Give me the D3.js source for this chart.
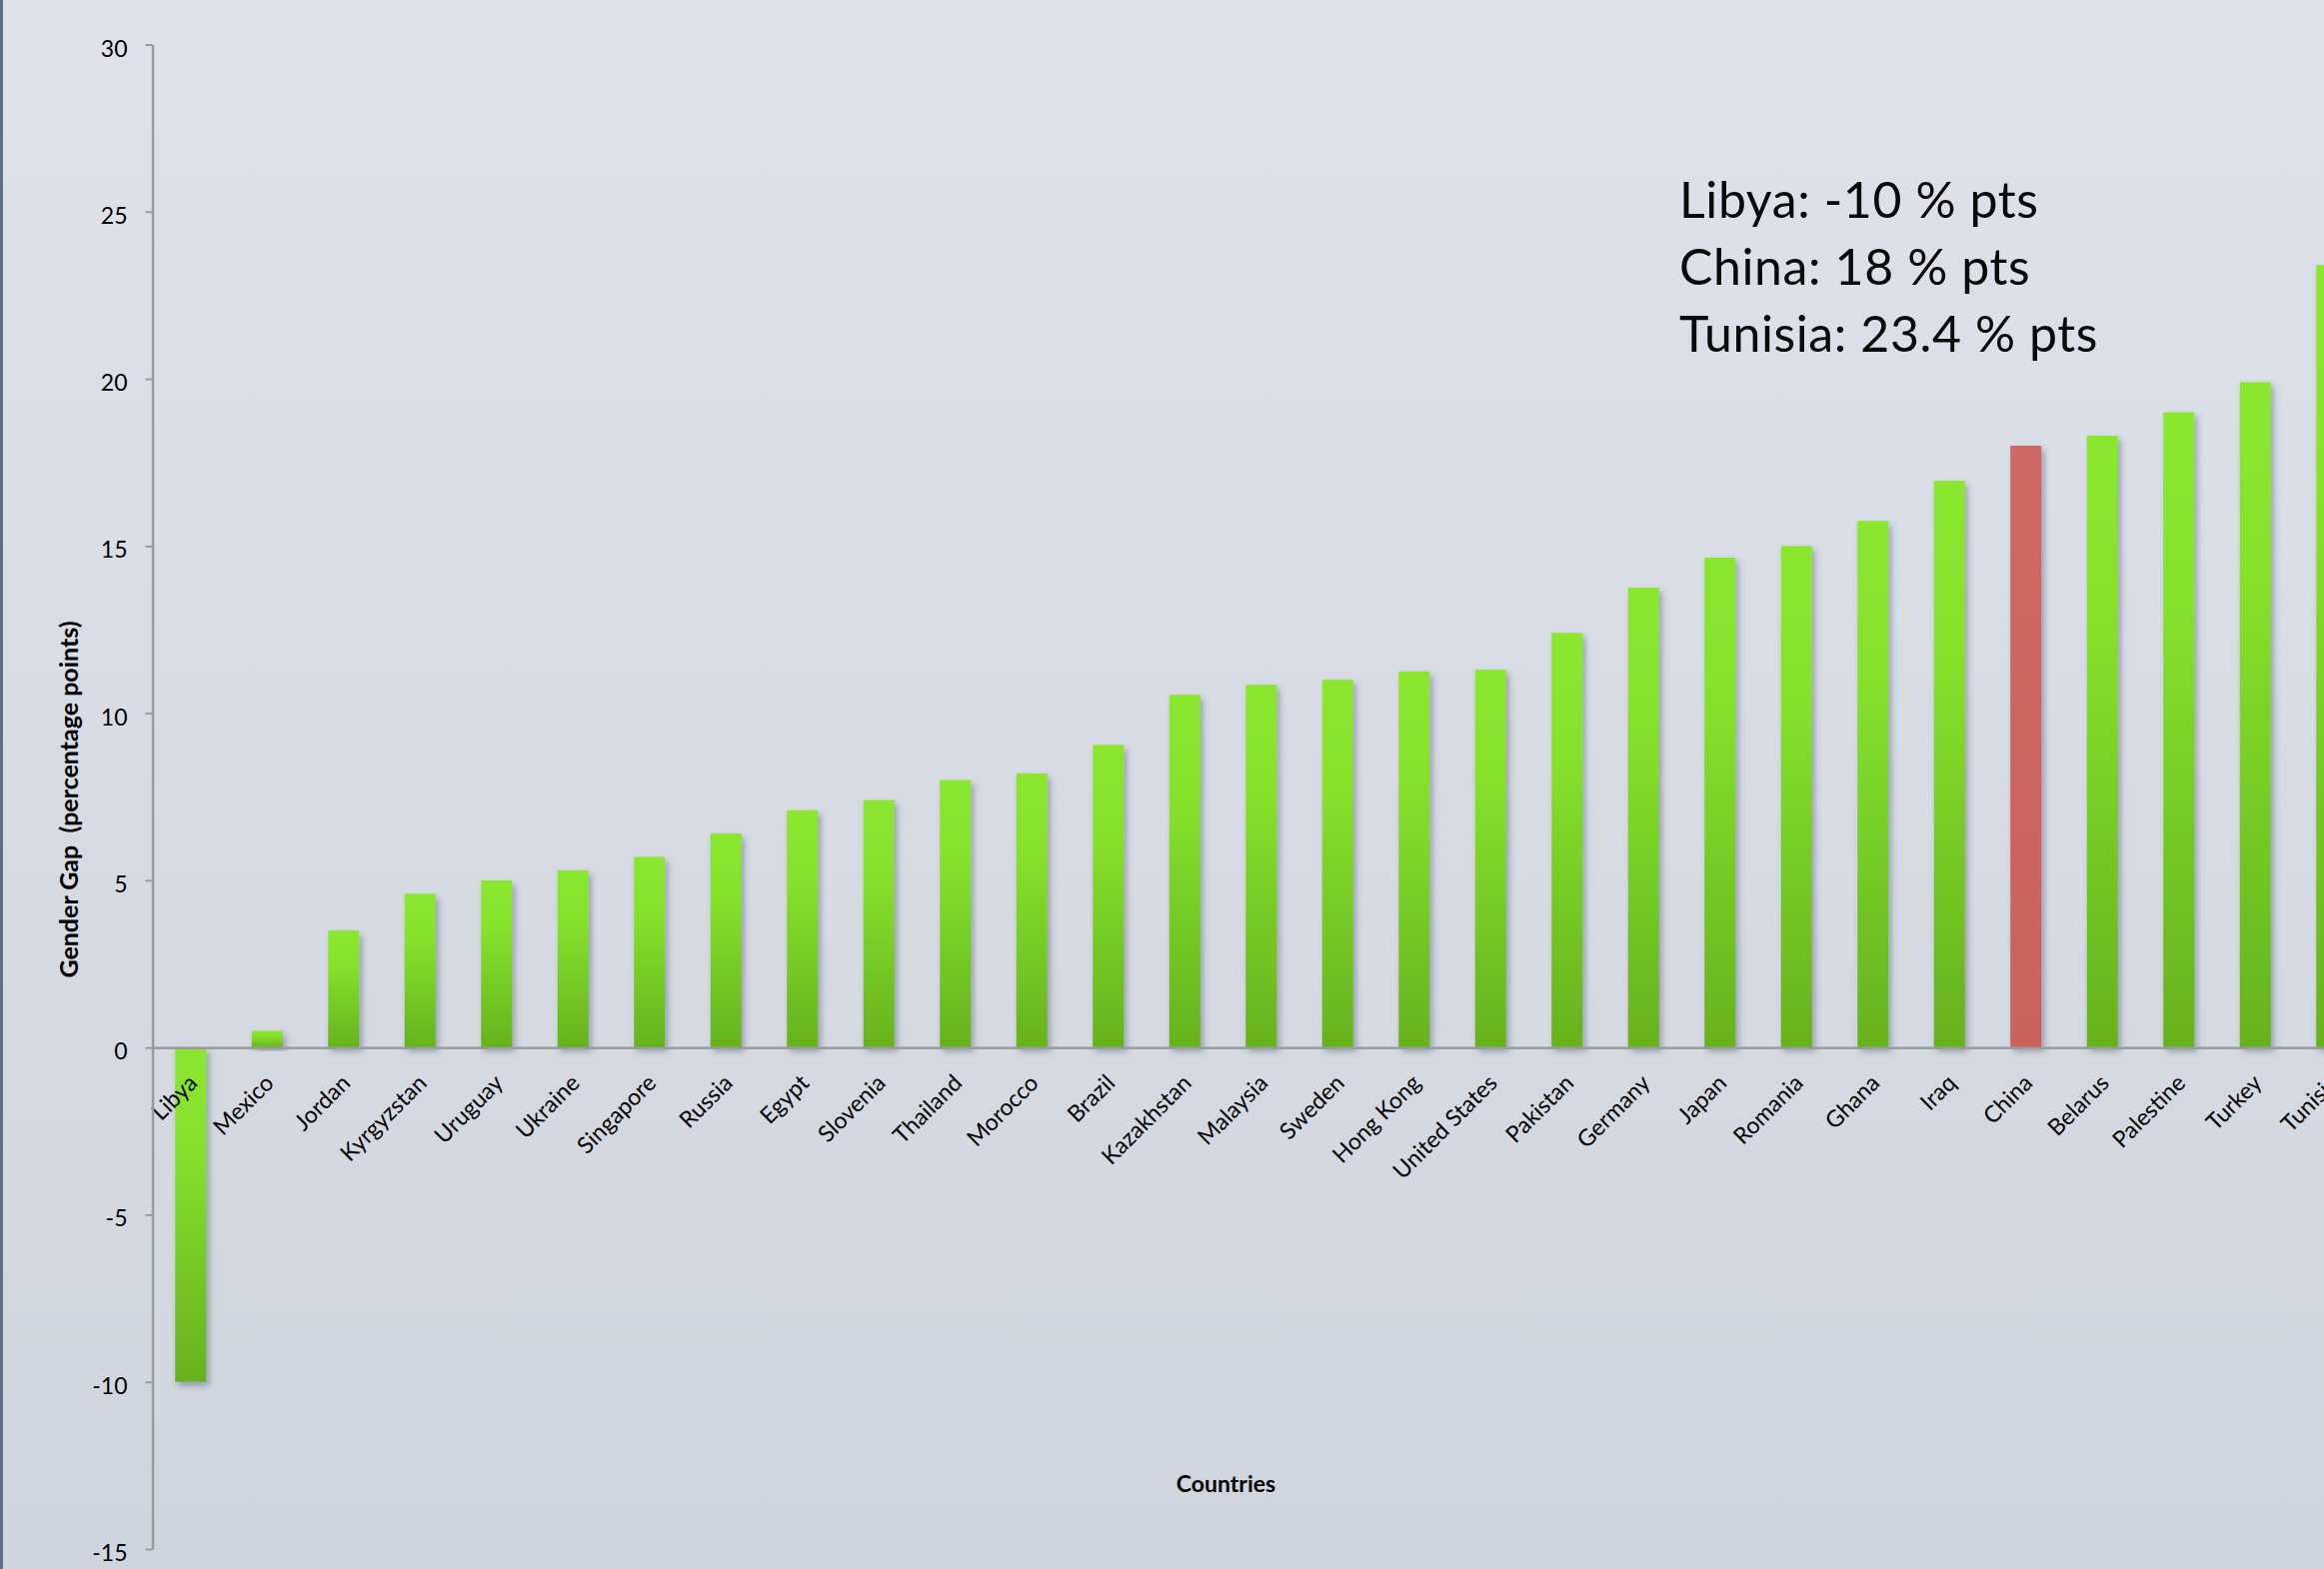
<!DOCTYPE html>
<html>
<head>
<meta charset="utf-8">
<script src="https://cdn.jsdelivr.net/npm/d3@7"></script>
<style>
  html, body { margin: 0; padding: 0; overflow: hidden; background: #d8dde5; }
  svg { display: block; font-family: Lato, "Open Sans", sans-serif; }
</style>
</head>
<body>
<svg id="chart" width="2325" height="1570"></svg>
<script>
// Gender gap by country, sorted ascending (percentage points)
const categories = [
  "Libya", "Mexico", "Jordan", "Kyrgyzstan", "Uruguay", "Ukraine", "Singapore",
  "Russia", "Egypt", "Slovenia", "Thailand", "Morocco", "Brazil", "Kazakhstan",
  "Malaysia", "Sweden", "Hong Kong", "United States", "Pakistan", "Germany",
  "Japan", "Romania", "Ghana", "Iraq", "China", "Belarus", "Palestine", "Turkey",
  "Tunisia"
];
const values = [
  -10, 0.5, 3.5, 4.6, 5.0, 5.3, 5.7,
  6.4, 7.1, 7.4, 8.0, 8.2, 9.05, 10.55,
  10.85, 11.0, 11.25, 11.3, 12.4, 13.75,
  14.65, 15.0, 15.75, 16.95, 18, 18.3, 19.0, 19.9,
  23.4
];
const highlighted = ["China"];
const yTicks = [-15, -10, -5, 0, 5, 10, 15, 20, 25, 30];
const noteCountries = ["Libya", "China", "Tunisia"];

const yTitle = "Gender Gap  (percentage points)";
const xTitle = "Countries";

const data = categories.map((c, i) => ({ country: c, value: values[i] }));

const W = 2325, H = 1570;
const svg = d3.select("#chart");
const defs = svg.append("defs");

// page background
const bg = defs.append("linearGradient").attr("id", "bg")
  .attr("x1", 0).attr("y1", 0).attr("x2", 0).attr("y2", 1);
bg.append("stop").attr("offset", "0%").attr("stop-color", "#dfe2ea");
bg.append("stop").attr("offset", "100%").attr("stop-color", "#cfd5de");

// bar fills
const gGreen = defs.append("linearGradient").attr("id", "barGreen")
  .attr("x1", 0).attr("y1", 0).attr("x2", 0).attr("y2", 1);
gGreen.append("stop").attr("offset", "0%").attr("stop-color", "#8ae72e");
gGreen.append("stop").attr("offset", "30%").attr("stop-color", "#86e12c");
gGreen.append("stop").attr("offset", "100%").attr("stop-color", "#66b21e");

const gRed = defs.append("linearGradient").attr("id", "barRed")
  .attr("x1", 0).attr("y1", 0).attr("x2", 0).attr("y2", 1);
gRed.append("stop").attr("offset", "0%").attr("stop-color", "#cf6862");
gRed.append("stop").attr("offset", "100%").attr("stop-color", "#ca625c");

const shadow = defs.append("filter").attr("id", "shadow")
  .attr("x", "-50%").attr("y", "-10%").attr("width", "200%").attr("height", "130%");
shadow.append("feDropShadow")
  .attr("dx", 3).attr("dy", 4).attr("stdDeviation", 3)
  .attr("flood-color", "#34455e").attr("flood-opacity", 0.4);

svg.append("rect").attr("width", W).attr("height", H).attr("fill", "url(#bg)");
svg.append("rect").attr("x", 0).attr("y", 0).attr("width", 3).attr("height", H)
  .attr("fill", "#5f6e85");

// scales
const plotLeft = 152.5;
const step = 76.5;
const x = d3.scaleBand()
  .domain(categories)
  .range([plotLeft, plotLeft + step * categories.length])
  .paddingInner(0.595)
  .paddingOuter(0.2975);

const y = d3.scaleLinear().domain([-15, 30]).range([1550, 44.5]);

// bars
svg.append("g").selectAll("rect")
  .data(data)
  .join("rect")
  .attr("x", d => x(d.country))
  .attr("width", x.bandwidth())
  .attr("y", d => y(Math.max(0, d.value)))
  .attr("height", d => Math.abs(y(d.value) - y(0)))
  .attr("fill", d => highlighted.includes(d.country) ? "url(#barRed)" : "url(#barGreen)")
  .attr("filter", "url(#shadow)");

// x axis along zero
const xAxis = svg.append("g")
  .attr("transform", `translate(0,${y(0)})`)
  .call(d3.axisBottom(x).tickSize(0).tickSizeOuter(0));
xAxis.select(".domain").attr("stroke", "#9b9b9b").attr("stroke-width", 2.5);
xAxis.selectAll("text")
  .attr("x", 0).attr("y", 0).attr("dy", 0)
  .attr("transform", "translate(8,37) rotate(-45)")
  .attr("text-anchor", "end")
  .attr("font-size", 23)
  .attr("font-family", "Lato, sans-serif")
  .attr("fill", "#000");

// y axis
const yAxis = svg.append("g")
  .attr("transform", `translate(${plotLeft},0)`)
  .call(d3.axisLeft(y).tickValues(yTicks).tickFormat(d => `${d}`)
    .tickSize(7).tickPadding(18).tickSizeOuter(0));
yAxis.select(".domain").attr("stroke", "#9b9b9b").attr("stroke-width", 2.5);
yAxis.selectAll(".tick line").attr("stroke", "#9b9b9b").attr("stroke-width", 2);
yAxis.selectAll("text")
  .attr("dy", "0.5em")
  .attr("font-size", 23)
  .attr("font-family", "Lato, sans-serif")
  .attr("fill", "#000");

// axis titles
svg.append("text")
  .attr("transform", `translate(78,800) rotate(-90)`)
  .attr("text-anchor", "middle")
  .attr("font-size", 25)
  .attr("font-weight", "bold")
  .attr("fill", "#000")
  .style("white-space", "pre")
  .text(yTitle);

svg.append("text")
  .attr("x", 1226.5).attr("y", 1493)
  .attr("text-anchor", "middle")
  .attr("font-size", 23)
  .attr("font-weight", "bold")
  .attr("fill", "#000")
  .text(xTitle);

// value notes
const notes = noteCountries.map(c => {
  const v = values[categories.indexOf(c)];
  return `${c}: ${v} % pts`;
});
svg.append("g").selectAll("text")
  .data(notes)
  .join("text")
  .attr("x", 1680)
  .attr("y", (d, i) => 218 + i * 66.8)
  .attr("font-size", 50)
  .attr("letter-spacing", 0.6)
  .attr("fill", "#0a0a0a")
  .text(d => d);
</script>
</body>
</html>
